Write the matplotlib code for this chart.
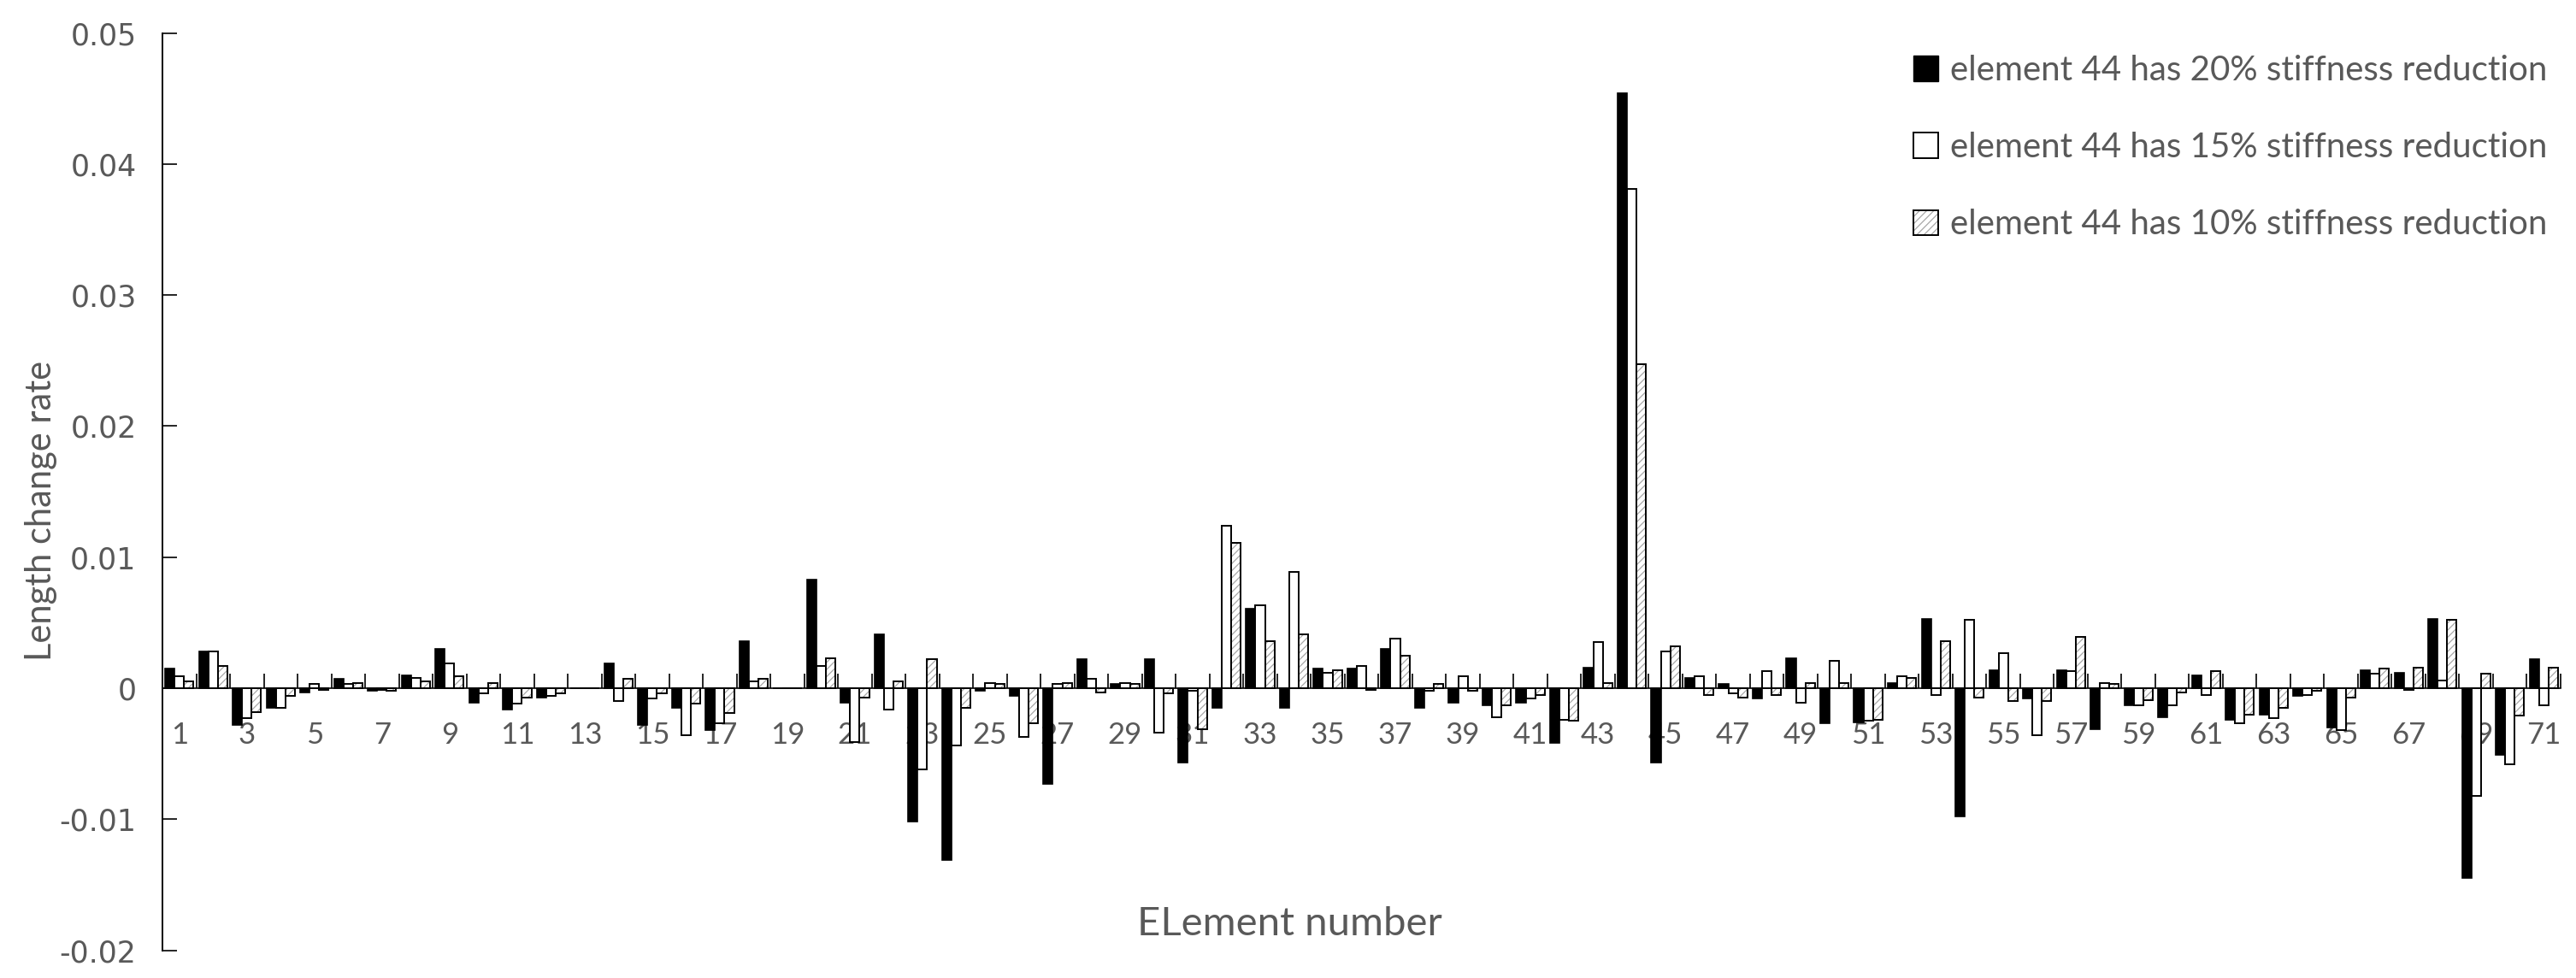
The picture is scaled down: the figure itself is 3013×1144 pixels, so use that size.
import numpy as np
import matplotlib
matplotlib.use('Agg')
import matplotlib.pyplot as plt
from matplotlib.patches import Patch
from matplotlib.ticker import FixedLocator, FixedFormatter

# ── Data: length change rate per element ─────────────────────────────────────
elements = np.arange(1, 72)

red20 = [0.0015, 0.0028, -0.0028, -0.0015, -0.0003, 0.0007, -0.0002, 0.0010, 0.0030, -0.0011,
         -0.0016, -0.0007, 0.0, 0.0019, -0.0028, -0.0015, -0.0032, 0.0036, 0.0, 0.0083,
         -0.0011, 0.0041, -0.0102, -0.0131, -0.0002, -0.0006, -0.0073, 0.0022, 0.0003, 0.0022,
         -0.0057, -0.0015, 0.0061, -0.0015, 0.0015, 0.0015, 0.0030, -0.0015, -0.0011, -0.0013,
         -0.0011, -0.0042, 0.0016, 0.0454, -0.0057, 0.0008, 0.0003, -0.0008, 0.0023, -0.0027,
         -0.0026, 0.0004, 0.0053, -0.0098, 0.0014, -0.0008, 0.0014, -0.0031, -0.0013, -0.0022,
         0.0010, -0.0024, -0.0020, -0.0006, -0.0030, 0.0014, 0.0012, 0.0053, -0.0145, -0.0051,
         0.0022]

red15 = [0.0009, 0.0028, -0.0023, -0.0015, 0.0003, 0.0003, -0.0001, 0.0008, 0.0019, -0.0004,
         -0.0012, -0.0006, 0.0, -0.0010, -0.0008, -0.0036, -0.0027, 0.0005, 0.0, 0.0017,
         -0.0041, -0.0016, -0.0062, -0.0044, 0.0004, -0.0037, 0.0003, 0.0007, 0.0004, -0.0034,
         -0.0002, 0.0124, 0.0063, 0.0089, 0.0012, 0.0017, 0.0038, -0.0002, 0.0009, -0.0022,
         -0.0008, -0.0024, 0.0035, 0.0381, 0.0028, 0.0009, -0.0004, 0.0013, -0.0011, 0.0021,
         -0.0025, 0.0009, -0.0005, 0.0052, 0.0027, -0.0036, 0.0013, 0.0004, -0.0013, -0.0013,
         -0.0005, -0.0027, -0.0023, -0.0005, -0.0032, 0.0011, -0.0001, 0.0006, -0.0082, -0.0058,
         -0.0013]

red10 = [0.0005, 0.0017, -0.0018, -0.0006, -0.0001, 0.0004, -0.0002, 0.0005, 0.0009, 0.0004,
         -0.0007, -0.0004, 0.0, 0.0007, -0.0004, -0.0012, -0.0019, 0.0007, 0.0, 0.0023,
         -0.0007, 0.0005, 0.0022, -0.0015, 0.0003, -0.0027, 0.0004, -0.0003, 0.0003, -0.0004,
         -0.0031, 0.0111, 0.0036, 0.0041, 0.0014, -0.0001, 0.0025, 0.0003, -0.0002, -0.0013,
         -0.0005, -0.0025, 0.0004, 0.0247, 0.0032, -0.0005, -0.0007, -0.0005, 0.0004, 0.0004,
         -0.0024, 0.0008, 0.0036, -0.0007, -0.0010, -0.0010, 0.0039, 0.0003, -0.0009, -0.0003,
         0.0013, -0.0020, -0.0015, -0.0002, -0.0007, 0.0015, 0.0016, 0.0052, 0.0011, -0.0021,
         0.0016]

labels = ['element 44 has 20% stiffness reduction',
          'element 44 has 15% stiffness reduction',
          'element 44 has 10% stiffness reduction']

TXT = '#595959'
HATCH_C = '#a8a8a8'
plt.rcParams['hatch.linewidth'] = 0.9

fig = plt.figure(figsize=(30.13, 11.44), dpi=100)
ax = fig.add_axes([0.0631, 0.0283, 0.9309, 0.938])

w = 0.28
ax.bar(elements - w, red20, width=w, color='black', edgecolor='black', linewidth=1.2, zorder=3)
ax.bar(elements, red15, width=w, color='white', edgecolor='black', linewidth=1.4, zorder=3)
# hatched series: gray hatch underneath, black outline on top
ax.bar(elements + w, red10, width=w, color='white', edgecolor=HATCH_C, hatch='////',
       linewidth=0, zorder=3)
ax.bar(elements + w, red10, width=w, fill=False, edgecolor='black', linewidth=1.4, zorder=4)

ax.set_xlim(0.5, 71.5)
ax.set_ylim(-0.02, 0.05)
ax.set_yticks(np.arange(-0.02, 0.0501, 0.01))
ax.set_yticklabels(['-0.02', '-0.01', '0', '0.01', '0.02', '0.03', '0.04', '0.05'])

ax.spines['top'].set_visible(False)
ax.spines['right'].set_visible(False)
ax.spines['bottom'].set_position(('data', 0))
ax.spines['bottom'].set_linewidth(1.2)
ax.spines['left'].set_linewidth(1.4)

# category boundary ticks (pointing up) + odd element labels
ax.xaxis.set_major_locator(FixedLocator(np.arange(0.5, 72, 1.0)))
ax.xaxis.set_major_formatter(FixedFormatter([''] * 72))
odd = list(range(1, 72, 2))
ax.xaxis.set_minor_locator(FixedLocator(odd))
ax.xaxis.set_minor_formatter(FixedFormatter([str(i) for i in odd]))
ax.tick_params(axis='x', which='major', direction='in', length=12, width=1.2)
ax.tick_params(axis='x', which='minor', length=0, pad=28, labelsize=25, labelcolor=TXT)
for t in ax.get_xticklabels(minor=True):
    t.set_family('Lato')

ax.tick_params(axis='y', direction='in', length=12, width=1.2, pad=22,
               labelsize=25, labelcolor=TXT)

ax.set_xlabel('ELement number', fontsize=34, color=TXT, family='Lato')
ax.xaxis.set_label_coords(0.47, 0.029)
ax.xaxis.label.set_va('center')
ax.set_ylabel('Length change rate', fontsize=30, color=TXT, family='Lato')
ax.yaxis.set_label_coords(-0.0506, 0.479)
ax.yaxis.label.set_va('center')

handles = [Patch(facecolor='black', edgecolor='black'),
           Patch(facecolor='white', edgecolor='black', linewidth=1.4),
           (Patch(facecolor='white', edgecolor=HATCH_C, hatch='////', linewidth=0),
            Patch(fill=False, edgecolor='black', linewidth=1.4))]
leg = fig.legend(handles, labels, loc='upper right', bbox_to_anchor=(0.989, 0.944),
                 frameon=False, borderpad=0, borderaxespad=0,
                 prop={'family': 'Lato', 'size': 29}, labelcolor=TXT,
                 handlelength=0.72, handleheight=0.75, handletextpad=0.35, labelspacing=1.32)

fig.savefig('out.png', dpi=100)
